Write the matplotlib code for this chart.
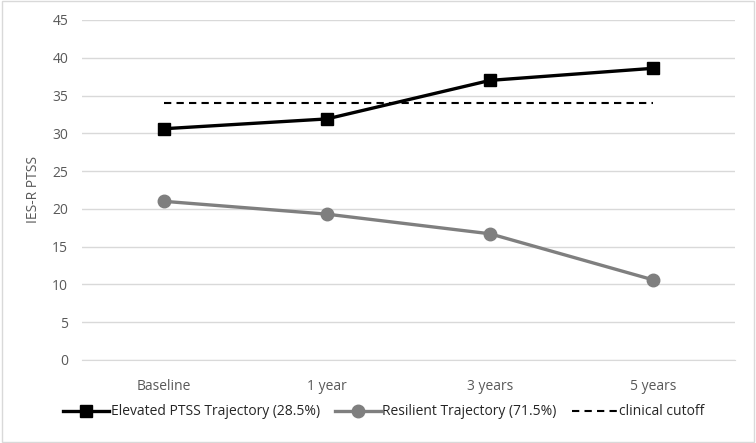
import matplotlib.pyplot as plt
from matplotlib.patches import Rectangle

plt.rcParams['font.family'] = ['Open Sans', 'DejaVu Sans']

timepoints = ["Baseline", "1 year", "3 years", "5 years"]
elevated = [30.6, 31.9, 37.0, 38.6]
resilient = [21.0, 19.3, 16.7, 10.6]
cutoff = [34, 34, 34, 34]

fig = plt.figure(figsize=(7.56, 4.43), dpi=100)
ax = fig.add_axes([0.1085, 0.1874, 0.8635, 0.7676])

x = range(len(timepoints))
ax.plot(x, elevated, color="black", lw=2.4, marker="s", ms=8.5,
        label="Elevated PTSS Trajectory (28.5%)", zorder=4)
ax.plot(x, resilient, color="#7f7f7f", lw=2.4, marker="o", ms=9,
        label="Resilient Trajectory (71.5%)", zorder=4)
ax.plot(x, cutoff, color="black", lw=1.5, ls=(0, (3.5, 2.5)),
        label="clinical cutoff", zorder=3)

ax.set_xlim(-0.5, 3.5)
ax.set_ylim(0, 45)
ax.set_yticks(range(0, 46, 5))
ax.set_xticks(list(x))
ax.set_xticklabels(timepoints)
ax.grid(axis="y", color="#d9d9d9", lw=1)
ax.set_axisbelow(True)
for s in ["top", "right", "left"]:
    ax.spines[s].set_visible(False)
ax.spines["bottom"].set_color("#d9d9d9")
ax.tick_params(length=0, labelsize=10, colors="#595959", pad=10)
ax.tick_params(axis="x", pad=14)
ax.set_ylabel("IES-R PTSS", fontsize=10, color="#595959", labelpad=8)

fig.legend(*ax.get_legend_handles_labels(), loc="center",
           bbox_to_anchor=(0.508, 0.07), ncol=3, frameon=False,
           fontsize=10, handlelength=3.3, columnspacing=1.1, handletextpad=0.1,
           labelcolor="#262626")

fig.patches.append(Rectangle((0.002, 0.002), 0.996, 0.996, transform=fig.transFigure,
                             fill=False, ec="#d9d9d9", lw=1))
fig.savefig("out.png", dpi=100)
